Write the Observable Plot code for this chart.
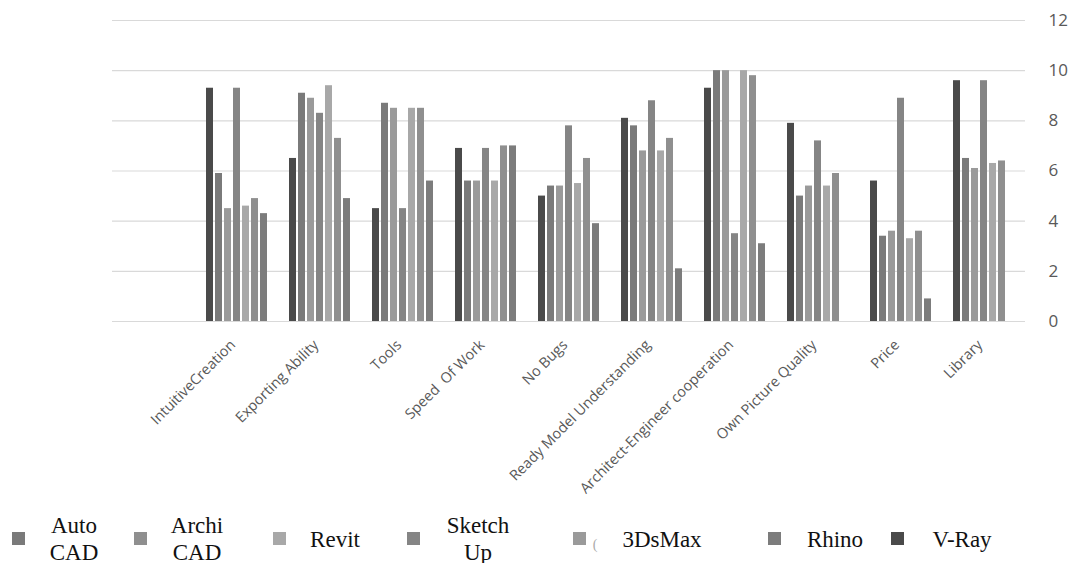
<!DOCTYPE html>
<html>
<head>
<meta charset="utf-8">
<script src="https://cdn.jsdelivr.net/npm/d3@7"></script>
<script src="https://cdn.jsdelivr.net/npm/@observablehq/plot@0.6"></script>
<style>
  html, body { margin: 0; padding: 0; background: #fff; }
  #chart { width: 1070px; height: 500px; }
  #chart svg { display: block; }
  #legend { position: relative; width: 1070px; height: 63px; font-family: "Liberation Serif", "Times New Roman", serif; font-size: 23px; color: #111; }
  .sw { position: absolute; width: 13px; height: 13px; top: 32px; }
  .lt { position: absolute; text-align: center; line-height: 27px; transform: translate(-50%, -50%); top: 39px; white-space: nowrap; }
</style>
</head>
<body>
<div id="chart"></div>
<div id="legend"></div>
<script>
// Categories (x axis)
const categories = ["IntuitiveCreation", "Exporting Ability", "Tools", "Speed  Of Work", "No Bugs",
  "Ready Model Understanding", "Architect-Engineer cooperation", "Own Picture Quality", "Price", "Library"];

// Series in the order the bars appear within each group
const series = ["V-Ray", "AutoCAD", "3DsMax", "SketchUp", "Revit", "ArchiCAD", "Rhino"];
const seriesColors = ["#4a4a4a", "#7a7a7a", "#9a9a9a", "#858585", "#a8a8a8", "#8f8f8f", "#7c7c7c"];

// Values per series (category order)
const vray     = [9.3, 6.5, 4.5, 6.9, 5.0, 8.1, 9.3, 7.9, 5.6, 9.6];
const autocad  = [5.9, 9.1, 8.7, 5.6, 5.4, 7.8, 10, 5.0, 3.4, 6.5];
const dsmax    = [4.5, 8.9, 8.5, 5.6, 5.4, 6.8, 10, 5.4, 3.6, 6.1];
const sketchup = [9.3, 8.3, 4.5, 6.9, 7.8, 8.8, 3.5, 7.2, 8.9, 9.6];
const revit    = [4.6, 9.4, 8.5, 5.6, 5.5, 6.8, 10, 5.4, 3.3, 6.3];
const archicad = [4.9, 7.3, 8.5, 7.0, 6.5, 7.3, 9.8, 5.9, 3.6, 6.4];
const rhino    = [4.3, 4.9, 5.6, 7.0, 3.9, 2.1, 3.1, null, 0.9, null];

// Y ticks
const yTicks = [0, 2, 4, 6, 8, 10, 12];

// Legend
const legendOrder = ["AutoCAD", "ArchiCAD", "Revit", "SketchUp", "3DsMax", "Rhino", "V-Ray"];
const legendLabels = ["Auto<br>CAD", "Archi<br>CAD", "Revit", "Sketch<br>Up", "3DsMax", "Rhino", "V-Ray"];

const valuesBySeries = {"V-Ray": vray, "AutoCAD": autocad, "3DsMax": dsmax, "SketchUp": sketchup,
  "Revit": revit, "ArchiCAD": archicad, "Rhino": rhino};

const rows = [];
categories.forEach((c, i) => {
  series.forEach(s => {
    const v = valuesBySeries[s][i];
    if (v != null) rows.push({category: c, series: s, value: v});
  });
});

const chart = Plot.plot({
  width: 1070,
  height: 500,
  marginLeft: 112,
  marginRight: 45,
  marginTop: 20,
  marginBottom: 179,
  style: {fontFamily: "'Open Sans', sans-serif", background: "#fff", overflow: "visible"},
  fx: {domain: ["", ...categories], padding: 0, label: null},
  x: {domain: series, paddingInner: 0.17, paddingOuter: 0.8, axis: null},
  y: {domain: [0, 12], label: null},
  color: {domain: series, range: seriesColors},
  marks: [
    Plot.gridY(yTicks, {stroke: "#d9d9d9", strokeOpacity: 1, strokeWidth: 1.2}),
    Plot.text([""], {fx: d => d, text: d => d}),
    Plot.barY(rows, {fx: "category", x: "series", y: "value", fill: "series"}),
    Plot.axisY(yTicks, {anchor: "right", tickSize: 0, tickPadding: 23, fontSize: 17, fill: "#595959", label: null}),
    Plot.axisFx({anchor: "bottom", tickRotate: -45, tickSize: 0, tickPadding: 21, dx: -4, fontSize: 14.5, fill: "#595959", label: null})
  ]
});
document.getElementById("chart").appendChild(chart);

// Legend
const legendSwatchX = [12, 134, 273, 407, 573, 768, 891];
const legendTextX = [74, 197, 335, 478, 662, 835, 962];
const legend = document.getElementById("legend");
legendOrder.forEach((s, i) => {
  const sw = document.createElement("div");
  sw.className = "sw";
  sw.style.left = legendSwatchX[i] + "px";
  sw.style.background = seriesColors[series.indexOf(s)];
  legend.appendChild(sw);
  const t = document.createElement("div");
  t.className = "lt";
  t.style.left = legendTextX[i] + "px";
  t.innerHTML = legendLabels[i];
  legend.appendChild(t);
});
const paren = document.createElement("div");
paren.className = "lt";
paren.style.left = "595px";
paren.style.fontSize = "14px";
paren.style.color = "#aaa";
paren.style.top = "44px";
paren.textContent = "(";
legend.appendChild(paren);
</script>
</body>
</html>
